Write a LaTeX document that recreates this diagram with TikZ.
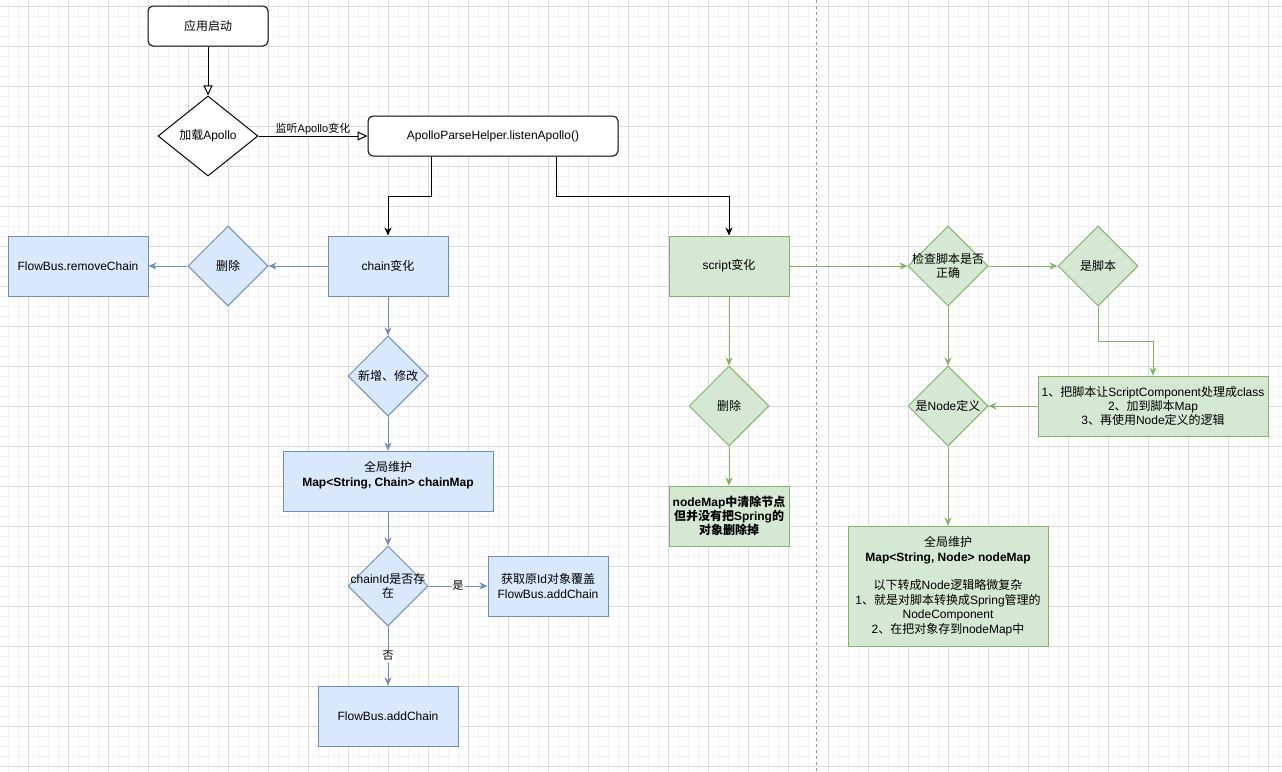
\documentclass[tikz,border=0pt]{standalone}
\usepackage{fontspec}
\setmainfont{Liberation Sans}
\newfontfamily\cjkfont{Noto Sans CJK SC}
% switch to the CJK font for Chinese characters
\XeTeXinterchartokenstate=1
\newXeTeXintercharclass\cjkclass
\newcount\cjkcode
\newcommand\cjkrange[2]{\cjkcode=#1
  \loop\XeTeXcharclass\cjkcode=\cjkclass
  \ifnum\cjkcode<#2 \advance\cjkcode by 1 \repeat}
\cjkrange{"3000}{"303F}
\cjkrange{"4E00}{"9FFF}
\cjkrange{"FF00}{"FFEF}
\XeTeXinterchartoks 0 \cjkclass = {\begingroup\cjkfont}
\XeTeXinterchartoks 4095 \cjkclass = {\begingroup\cjkfont}
\XeTeXinterchartoks \cjkclass 0 = {\endgroup}
\XeTeXinterchartoks \cjkclass 4095 = {\endgroup}
\usetikzlibrary{shapes.geometric,arrows.meta}
\definecolor{bluefill}{HTML}{DAE8FC}
\definecolor{blueline}{HTML}{6C8EBF}
\definecolor{greenfill}{HTML}{D5E8D4}
\definecolor{greenline}{HTML}{82B366}

\begin{document}
\begin{tikzpicture}[x=1pt,y=-1pt,line width=1pt,
    every node/.style={font=\fontsize{12}{14.4}\selectfont},
    boldtxt/.style={font=\fontsize{12}{14.4}\selectfont\bfseries},
    lbl/.style={font=\fontsize{11}{13}\selectfont,inner sep=1pt},
    startbox/.style={draw,fill=white,rounded corners=5pt,minimum height=40pt,inner sep=0pt},
    bbox/.style={draw=blueline,fill=bluefill,minimum width=120pt,minimum height=60pt,inner sep=0pt,align=center},
    gbox/.style={draw=greenline,fill=greenfill,minimum width=120pt,minimum height=60pt,inner sep=0pt,align=center},
    dia/.style={diamond,draw,fill=white,minimum width=100pt,minimum height=80pt,inner sep=0pt},
    bdia/.style={diamond,draw=blueline,fill=bluefill,minimum width=80pt,minimum height=80pt,inner sep=0pt},
    gdia/.style={diamond,draw=greenline,fill=greenfill,minimum width=80pt,minimum height=80pt,inner sep=0pt},
    dtext/.style={align=center,inner sep=0pt},
    openarr/.style={-{Triangle[open,length=10pt,width=9pt]}},
    karr/.style={-{Stealth[length=8pt,width=7pt,inset=2.5pt]}},
    barr/.style={draw=blueline,-{Stealth[length=8pt,width=7pt,inset=2.5pt]}},
    garr/.style={draw=greenline,-{Stealth[length=8pt,width=7pt,inset=2.5pt]}},
    gridminor/.style={draw=black!5},
    gridmajor/.style={draw=black!14}]
 \useasboundingbox (0,0) rectangle (1282,771);
 \fill[white] (0,0) rectangle (1282,771);
 \foreach \gx in {8,18,...,1278} {\draw[gridminor] (\gx,0) -- (\gx,771);}
 \foreach \gy in {6,16,...,766} {\draw[gridminor] (0,\gy) -- (1282,\gy);}
 \foreach \gx in {28,68,...,1268} {\draw[gridmajor] (\gx,0) -- (\gx,771);}
 \foreach \gy in {6,46,...,766} {\draw[gridmajor] (0,\gy) -- (1282,\gy);}
 \draw[black!40,dash pattern=on 3pt off 3pt] (816,0) -- (816,771);

 \node[startbox,minimum width=120pt] (start) at (208,26) {应用启动};
 \node[dia] (load) at (208,136) {};
 \node[dtext] (loadT) at (load) {加载Apollo};
 \node[startbox,minimum width=250pt] (listen) at (493,136) {ApolloParseHelper.listenApollo()};
 \draw[openarr] (start) -- (load);
 \draw[openarr] (load) -- node[above,lbl] (listenLbl) {监听Apollo变化} (listen);

 % chain
 \node[bbox] (chain) at (388,266) {chain变化};
 \node[bdia] (del) at (228,266) {};
 \node[dtext] (delT) at (del) {删除};
 \node[bbox,minimum width=140pt] (remove) at (78,266) {FlowBus.removeChain};
 \node[bdia] (modify) at (388,376) {};
 \node[dtext] (modifyT) at (modify) {新增、修改};
 \node[bbox,minimum width=210pt] (chainMap) at (388,481)
  {全局维护\\\textbf{Map<String, Chain> chainMap}\\~};
 \node[bdia] (exist) at (388,586) {};
 \node[dtext] (existT) at (exist) {chainId是否存\\在};
 \node[bbox] (cover) at (548,586) {获取原Id对象覆盖\\FlowBus.addChain};
 \node[bbox,minimum width=140pt] (add) at (388,716) {FlowBus.addChain};
 \draw[karr] ([xshift=-62pt]listen.south) -- ++(0,40) -| (chain);
 \draw[barr] (chain) -- (del);
 \draw[barr] (del) -- (remove);
 \draw[barr] (chain) -- (modify);
 \draw[barr] (modify) -- (chainMap);
 \draw[barr] (chainMap) -- (exist);
 \draw[barr] (exist) -- node[lbl,fill=white] (yesLbl) {是} (cover);
 \draw[barr] (exist) -- node[lbl,fill=white] (noLbl) {否} (add);

 % script
 \node[gbox] (script) at (729,266) {script变化};
 \node[gdia] (sdel) at (729,406) {};
 \node[dtext] (sdelT) at (sdel) {删除};
 \node[gbox,boldtxt] (clear) at (729,516) {nodeMap中清除节点\\但并没有把Spring的\\对象删除掉};
 \node[gdia] (check) at (948,266) {};
 \node[dtext] (checkT) at (check) {检查脚本是否\\正确};
 \node[gdia] (isScript) at (1098,266) {};
 \node[dtext] (isScriptT) at (isScript) {是脚本};
 \node[gbox,minimum width=230pt] (scriptRect) at (1153,406)
  {1、把脚本让ScriptComponent处理成class\\2、加到脚本Map\\3、再使用Node定义的逻辑};
 \node[gdia] (isNode) at (948,406) {};
 \node[dtext] (isNodeT) at (isNode) {是Node定义};
 \node[gbox,minimum width=200pt,minimum height=120pt] (nodeMap) at (948,586)
  {全局维护\\\textbf{Map<String, Node> nodeMap}\\~\\以下转成Node逻辑略微复杂\\1、就是对脚本转换成Spring管理的\\NodeComponent\\2、在把对象存到nodeMap中};
 \draw[karr] ([xshift=63pt]listen.south) -- ++(0,40) -| (script);
 \draw[garr] (script) -- (sdel);
 \draw[garr] (sdel) -- (clear);
 \draw[garr] (script) -- (check);
 \draw[garr] (check) -- (isScript);
 \draw[garr] (isScript.south) -- ++(0,35) -| (scriptRect);
 \draw[garr] (check) -- (isNode);
 \draw[garr] (scriptRect) -- (isNode);
 \draw[garr] (isNode) -- (nodeMap);
\end{tikzpicture}
\end{document}
